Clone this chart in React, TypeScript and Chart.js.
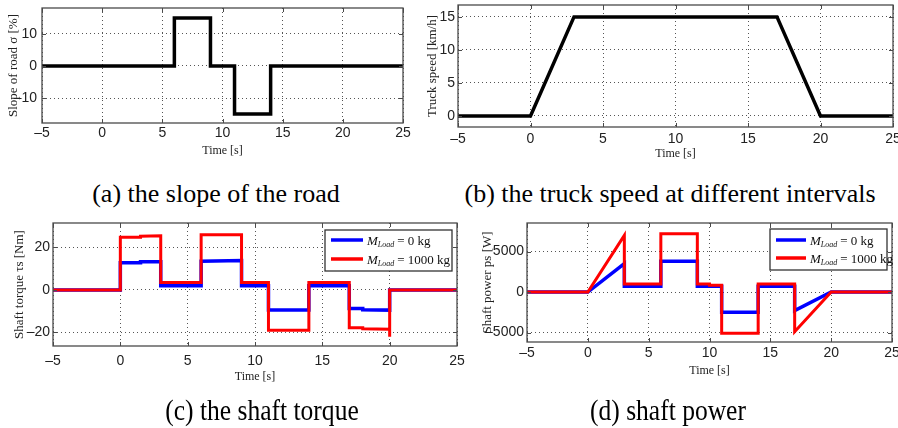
import React, { useEffect, useRef } from "react";
import { Chart, registerables } from "chart.js";

Chart.register(...registerables);

// ---------------- data ----------------
const timeTicks = [-5, 0, 5, 10, 15, 20, 25];

const slopeTime = [-5, 6, 6, 9, 9, 11, 11, 14, 14, 25];
const slopeValue = [0, 0, 15, 15, 0, 0, -15, -15, 0, 0];
const slopeTicks = [-10, 0, 10];

const speedTime = [-5, 0, 3, 17, 20, 25];
const speedValue = [0, 0, 15, 15, 0, 0];
const speedTicks = [0, 5, 10, 15];

const torqueTime0 = [-5, 0, 0, 1.5, 1.5, 3, 3, 6, 6, 9, 9, 11, 11, 14, 14, 17, 17, 18, 18, 20, 20, 25];
const torqueValue0 = [0, 0, 12.8, 12.8, 13.3, 13.3, 2, 2, 13.5, 13.8, 2, 2, -9.5, -9.5, 2, 2, -8.8, -8.8, -9.3, -9.5, 0, 0];
const torqueTime1000 = [-5, 0, 0, 1.5, 1.5, 3, 3, 6, 6, 9, 9, 11, 11, 14, 14, 17, 17, 18, 18, 20, 20, 20, 25];
const torqueValue1000 = [0, 0, 24.8, 24.8, 25.3, 25.5, 3.5, 3.5, 26, 26, 3.5, 3.5, -19, -19, 3.5, 3.5, -17.8, -17.8, -18.3, -18.5, -22, 0, 0];
const torqueTicks = [-20, 0, 20];

const powerTime0 = [-5, 0, 3, 3, 6, 6, 9, 9, 11, 11, 14, 14, 17, 17, 20, 25];
const powerValue0 = [0, 0, 3500, 700, 700, 3800, 3800, 700, 700, -2500, -2500, 700, 700, -2300, 0, 0];
const powerTime1000 = [-5, 0, 3, 3, 6, 6, 9, 9, 10, 10, 11, 11, 14, 14, 17, 17, 20, 25];
const powerValue1000 = [0, 0, 7000, 1000, 1000, 7200, 7200, 1000, 1000, 850, 850, -5100, -5100, 1000, 1000, -4900, 0, 0];
const powerTicks = [-5000, 0, 5000];

const legendLoads = ["0 kg", "1000 kg"];
const captions = [
  "(a) the slope of the road",
  "(b) the truck speed at different intervals",
  "(c) the shaft torque",
  "(d) shaft power",
];

// ---------------- styling / layout ----------------
const SANS = "'Liberation Sans Narrow', 'Liberation Sans', Arial, sans-serif";
const SERIF = "'Liberation Serif', 'Times New Roman', serif";
const BLUE = "#0000ff";
const RED = "#ff0000";
const BLACK = "#000000";

type Series = { x: number[]; y: number[]; color: string; width: number };
type Legend = {
  l: number; t: number; r: number; b: number;
  rows: { y: number; color: string; label: string }[];
  sL: number; sR: number; textX: number;
};
type PanelCfg = {
  left: number; top: number; width: number; height: number;
  plot: { l: number; r: number; t: number; b: number };
  yMin: number; yMax: number; yTicks: number[];
  yTitle: string; yTitleX: number; yTickPad: number;
  xTickPad: number; xTitleY: number;
  series: Series[];
  legend?: Legend;
};

const Y_TITLE_SIZE = 13;
const X_TITLE_SIZE = 12;
const TICK_SIZE = 14;

const panels: PanelCfg[] = [
  {
    left: 0, top: 0, width: 420, height: 172,
    plot: { l: 42, r: 403, t: 8, b: 123 },
    yMin: -17.8, yMax: 18.1, yTicks: slopeTicks,
    yTitle: "Slope of road σ [%]", yTitleX: 14, yTickPad: 5,
    xTickPad: 2, xTitleY: 151,
    series: [{ x: slopeTime, y: slopeValue, color: BLACK, width: 3.5 }],
  },
  {
    left: 420, top: 0, width: 478, height: 172,
    plot: { l: 38, r: 473, t: 5, b: 127 },
    yMin: -1.67, yMax: 16.8, yTicks: speedTicks,
    yTitle: "Truck speed [km/h]", yTitleX: 13, yTickPad: 3,
    xTickPad: 4, xTitleY: 154,
    series: [{ x: speedTime, y: speedValue, color: BLACK, width: 3.5 }],
  },
  {
    left: 0, top: 215, width: 465, height: 185,
    plot: { l: 53, r: 457, t: 8, b: 131 },
    yMin: -26.4, yMax: 31.5, yTicks: torqueTicks,
    yTitle: "Shaft torque τs [Nm]", yTitleX: 20, yTickPad: 3,
    xTickPad: 7, xTitleY: 162,
    series: [
      { x: torqueTime1000, y: torqueValue1000, color: RED, width: 3 },
      { x: torqueTime0, y: torqueValue0, color: BLUE, width: 3.5 },
    ],
    legend: {
      l: 325, t: 15, r: 452, b: 56,
      rows: [
        { y: 25, color: BLUE, label: legendLoads[0] },
        { y: 44, color: RED, label: legendLoads[1] },
      ],
      sL: 331, sR: 363, textX: 367,
    },
  },
  {
    left: 465, top: 215, width: 433, height: 185,
    plot: { l: 62, r: 427, t: 8, b: 127 },
    yMin: -6170, yMax: 8520, yTicks: powerTicks,
    yTitle: "Shaft power ps [W]", yTitleX: 23, yTickPad: 3,
    xTickPad: 3, xTitleY: 156,
    series: [
      { x: powerTime1000, y: powerValue1000, color: RED, width: 3 },
      { x: powerTime0, y: powerValue0, color: BLUE, width: 3.5 },
    ],
    legend: {
      l: 305, t: 14, r: 422, b: 55,
      rows: [
        { y: 25, color: BLUE, label: legendLoads[0] },
        { y: 43, color: RED, label: legendLoads[1] },
      ],
      sL: 311, sR: 341, textX: 345,
    },
  },
];

const fmtTick = (v: any) => String(v).replace("-", "\u2013");

function makeFramePlugin(cfg: PanelCfg) {
  return {
    id: "frame",
    afterDatasetsDraw(chart: any) {
      const { ctx, chartArea, scales } = chart;
      const { left, right, top, bottom } = chartArea;
      ctx.save();
      ctx.strokeStyle = "#4a4a4a";
      ctx.lineWidth = 1.3;
      ctx.strokeRect(left, top, right - left, bottom - top);
      ctx.lineWidth = 1;
      ctx.beginPath();
      timeTicks.forEach((v) => {
        const px = Math.round(scales.x.getPixelForValue(v)) + 0.5;
        ctx.moveTo(px, bottom); ctx.lineTo(px, bottom - 4);
        ctx.moveTo(px, top); ctx.lineTo(px, top + 4);
      });
      cfg.yTicks.forEach((v) => {
        const py = Math.round(scales.y.getPixelForValue(v)) + 0.5;
        ctx.moveTo(left, py); ctx.lineTo(left + 4, py);
        ctx.moveTo(right, py); ctx.lineTo(right - 4, py);
      });
      ctx.stroke();

      const lg = cfg.legend;
      if (lg) {
        ctx.fillStyle = "#ffffff";
        ctx.fillRect(lg.l, lg.t, lg.r - lg.l, lg.b - lg.t);
        ctx.strokeStyle = "#333333";
        ctx.lineWidth = 1.3;
        ctx.strokeRect(lg.l, lg.t, lg.r - lg.l, lg.b - lg.t);
        lg.rows.forEach((row) => {
          ctx.strokeStyle = row.color;
          ctx.lineWidth = 3.5;
          ctx.beginPath();
          ctx.moveTo(lg.sL, row.y);
          ctx.lineTo(lg.sR, row.y);
          ctx.stroke();
          ctx.fillStyle = "#111";
          ctx.textBaseline = "alphabetic";
          ctx.textAlign = "left";
          let x = lg.textX;
          const base = row.y + 4.5;
          ctx.font = `italic 13px ${SERIF}`;
          ctx.fillText("M", x, base);
          x += ctx.measureText("M").width;
          ctx.font = `italic 8px ${SERIF}`;
          ctx.fillText("Load", x, base + 2.5);
          x += ctx.measureText("Load").width + 3;
          ctx.font = `13px ${SERIF}`;
          ctx.fillText("= " + row.label, x, base);
        });
      }
      ctx.restore();
    },
  };
}

function Panel({ cfg }: { cfg: PanelCfg }) {
  const ref = useRef<HTMLCanvasElement>(null);
  useEffect(() => {
    const canvas = ref.current!;
    const yLH = Y_TITLE_SIZE * 1.2;
    const xLH = X_TITLE_SIZE * 1.2;
    const padL = cfg.yTitleX - yLH / 2;
    const yAxisW = cfg.plot.l - padL;
    const xAxisBottom = cfg.xTitleY + xLH / 2;
    const padB = cfg.height - xAxisBottom;
    const xAxisH = xAxisBottom - cfg.plot.b;

    const chart = new Chart(canvas, {
      type: "line",
      data: {
        datasets: cfg.series.map((s) => ({
          data: s.x.map((xv, i) => ({ x: xv, y: s.y[i] })),
          borderColor: s.color,
          backgroundColor: s.color,
          borderWidth: s.width,
          pointRadius: 0,
          tension: 0,
          fill: false,
          borderJoinStyle: "miter" as const,
        })),
      },
      options: {
        responsive: false,
        animation: false,
        devicePixelRatio: 1,
        events: [],
        layout: {
          padding: {
            left: padL,
            right: cfg.width - cfg.plot.r,
            top: cfg.plot.t,
            bottom: padB,
          },
        },
        plugins: {
          legend: { display: false },
          tooltip: { enabled: false },
        },
        scales: {
          x: {
            type: "linear",
            min: -5,
            max: 25,
            afterBuildTicks: (s: any) => {
              s.ticks = timeTicks.map((v) => ({ value: v }));
            },
            afterFit: (s: any) => {
              s.height = xAxisH;
              s.paddingLeft = 0; s.paddingRight = 0; s.paddingTop = 0; s.paddingBottom = 0;
            },
            grid: { color: "#555", lineWidth: 1, drawTicks: false },
            border: { display: false, dash: [1, 3] },
            ticks: {
              padding: cfg.xTickPad,
              color: "#222",
              font: { family: SANS, size: TICK_SIZE },
              maxRotation: 0,
              autoSkip: false,
              callback: fmtTick,
            },
            title: {
              display: true,
              text: "Time [s]",
              color: "#222",
              font: { family: SERIF, size: X_TITLE_SIZE },
              padding: 0,
            },
          },
          y: {
            type: "linear",
            min: cfg.yMin,
            max: cfg.yMax,
            afterBuildTicks: (s: any) => {
              s.ticks = cfg.yTicks.map((v) => ({ value: v }));
            },
            afterFit: (s: any) => {
              s.width = yAxisW;
              s.paddingLeft = 0; s.paddingRight = 0; s.paddingTop = 0; s.paddingBottom = 0;
            },
            grid: { color: "#555", lineWidth: 1, drawTicks: false },
            border: { display: false, dash: [1, 3] },
            ticks: {
              padding: cfg.yTickPad,
              color: "#222",
              font: { family: SANS, size: TICK_SIZE },
              callback: fmtTick,
            },
            title: {
              display: true,
              text: cfg.yTitle,
              color: "#222",
              font: { family: SERIF, size: Y_TITLE_SIZE },
              padding: 0,
            },
          },
        },
      } as any,
      plugins: [makeFramePlugin(cfg)],
    });
    return () => chart.destroy();
  }, [cfg]);
  return (
    <canvas
      ref={ref}
      width={cfg.width}
      height={cfg.height}
      style={{ position: "absolute", left: cfg.left, top: cfg.top, width: cfg.width, height: cfg.height }}
    />
  );
}

const captionPos = [
  { cx: 216, top: 178, size: 26, sx: 1 },
  { cx: 670, top: 178, size: 26, sx: 1 },
  { cx: 262, top: 394, size: 29, sx: 0.88 },
  { cx: 668, top: 394, size: 29, sx: 0.88 },
];

export default function App() {
  return (
    <div style={{ position: "absolute", left: 0, top: 0, width: 898, height: 428, background: "#fff", overflow: "hidden" }}>
      {panels.map((p, i) => (
        <Panel key={i} cfg={p} />
      ))}
      {captions.map((c, i) => (
        <div
          key={"c" + i}
          style={{
            position: "absolute",
            left: captionPos[i].cx - 300,
            width: 600,
            top: captionPos[i].top,
            textAlign: "center",
            fontFamily: SERIF,
            fontSize: captionPos[i].size,
            lineHeight: "32px",
            color: "#000",
            whiteSpace: "nowrap",
            transform: `scaleX(${captionPos[i].sx})`,
          }}
        >
          {c}
        </div>
      ))}
    </div>
  );
}
